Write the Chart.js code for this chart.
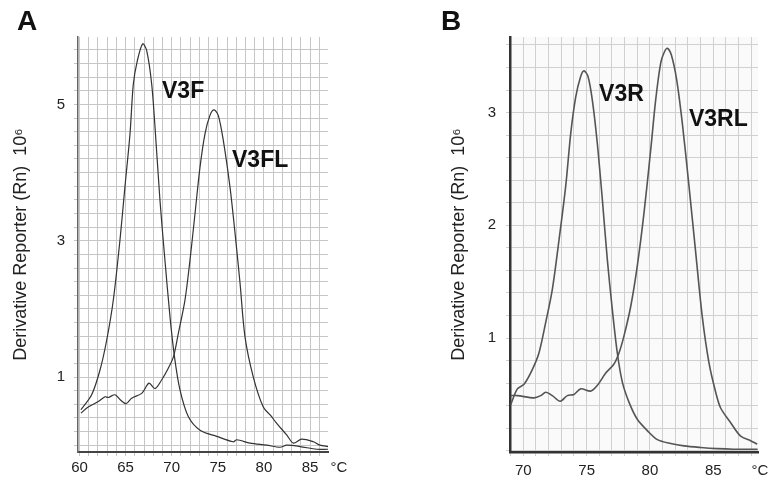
<!DOCTYPE html>
<html>
<head>
<meta charset="utf-8">
<script src="https://cdn.jsdelivr.net/npm/chart.js@4.4.1/dist/chart.umd.min.js"></script>
<style>
  html, body { margin: 0; padding: 0; background: #fff; }
  #wrap { position: relative; width: 768px; height: 481px; }
  canvas { position: absolute; top: 0; }
  #chartA { left: 0; }
  #chartB { left: 384px; }
</style>
</head>
<body>
<div id="wrap">
  <canvas id="chartA" width="384" height="481"></canvas>
  <canvas id="chartB" width="384" height="481"></canvas>
</div>
<script>
// Panel A - melt curves V3F / V3FL (x in °C, y in 10^6)
var tempV3F = [60.16, 61.32, 62.22, 62.95, 63.67, 64.39, 64.93, 65.48, 65.84, 66.27, 66.85, 67.29, 67.83, 68.19,
               68.73, 69.27, 69.82, 70.3, 70.9, 71.8, 73.07, 74.88, 76.68, 77.05, 78.49, 80.3, 81.75, 82.47, 83.92, 85.73, 86.95];
var valV3F  = [0.52, 0.74, 1.10, 1.54, 2.13, 3.01, 3.79, 4.57, 5.30, 5.64, 5.89, 5.79, 5.30, 4.67,
               3.59, 2.71, 1.88, 1.30, 0.81, 0.42, 0.22, 0.13, 0.05, 0.08, 0.03, 0.0, -0.03, 0.0, -0.02, -0.06, -0.06];

var tempV3FL = [60.16, 60.95, 62.04, 62.77, 63.12, 63.85, 64.39, 65.04, 65.66, 66.75, 67.54, 68.19, 68.92, 69.63,
                70.2, 70.72, 71.44, 71.98, 72.53, 73.07, 73.61, 74.15, 74.59, 75.05, 75.6, 76.32, 76.87, 77.41,
                77.95, 78.85, 79.93, 80.7, 81.39, 82.47, 83.19, 84.1, 85.36, 86.08, 86.95];
var valV3FL  = [0.47, 0.56, 0.64, 0.71, 0.70, 0.74, 0.67, 0.61, 0.69, 0.76, 0.91, 0.83, 0.96, 1.13,
                1.30, 1.64, 2.13, 2.71, 3.40, 4.08, 4.57, 4.84, 4.92, 4.84, 4.47, 3.79, 3.11, 2.38,
                1.59, 1.0, 0.56, 0.44, 0.32, 0.15, 0.03, 0.09, 0.05, 0.0, -0.02];

// Panel B - melt curves V3R / V3RL
var tempV3R = [69.01, 69.53, 70.06, 70.71, 71.24, 71.77, 72.29, 72.82, 73.35, 73.75, 74.14, 74.53, 74.79, 75.11,
               75.45, 75.84, 76.24, 76.63, 77.03, 77.42, 77.82, 78.35, 79.0, 79.79, 80.58, 81.64, 82.69, 84.0,
               85.3, 86.6, 88.5];
var valV3R  = [0.41, 0.55, 0.59, 0.72, 0.87, 1.14, 1.43, 1.87, 2.35, 2.82, 3.14, 3.32, 3.37, 3.32,
               3.11, 2.73, 2.23, 1.70, 1.25, 0.87, 0.61, 0.43, 0.28, 0.18, 0.10, 0.065, 0.044, 0.03,
               0.02, 0.015, 0.015];

var tempV3RL = [69.01, 69.53, 70.85, 71.38, 71.77, 72.29, 72.9, 73.48, 74.0, 74.53, 75.32, 75.84, 76.51, 77.16,
                77.56, 77.95, 78.48, 79.0, 79.53, 80.06, 80.45, 80.85, 81.11, 81.37, 81.69, 82.11, 82.55, 83.08,
                83.61, 84.13, 84.66, 85.19, 85.58, 86.37, 87.16, 87.95, 88.47];
var valV3RL  = [0.49, 0.49, 0.47, 0.49, 0.52, 0.49, 0.44, 0.49, 0.50, 0.55, 0.53, 0.58, 0.69, 0.77,
                0.87, 1.02, 1.28, 1.64, 2.11, 2.67, 3.11, 3.44, 3.53, 3.57, 3.51, 3.29, 2.91, 2.35,
                1.76, 1.19, 0.78, 0.52, 0.38, 0.25, 0.13, 0.09, 0.06];

var labelsA = ["V3F", "V3FL"];
var labelsB = ["V3R", "V3RL"];
var yTitle = "Derivative Reporter (Rn)  10\u2076";

function pts(xs, ys) {
    return xs.map(function (x, i) { return { x: x, y: ys[i] }; });
}

// letters, curve names and the °C unit
var panelText = {
    id: "panelText",
    beforeDraw: function (chart, args, opts) {
        if (!opts.bg) return;
        var a = chart.chartArea, ctx = chart.ctx;
        ctx.save();
        ctx.fillStyle = opts.bg;
        ctx.fillRect(a.left, a.top, a.right - a.left, a.bottom - a.top);
        ctx.restore();
    },
    afterDraw: function (chart, args, opts) {
        var ctx = chart.ctx, xs = chart.scales.x, ys = chart.scales.y;
        ctx.save();
        ctx.fillStyle = "#111";
        ctx.textBaseline = "alphabetic";
        ctx.textAlign = "left";
        ctx.font = "bold 28px 'Liberation Sans', Arial, sans-serif";
        ctx.fillText(opts.letter, opts.letterX, 30);
        ctx.font = "bold 23px 'Liberation Sans', Arial, sans-serif";
        opts.names.forEach(function (n) {
            ctx.fillText(n.text, xs.getPixelForValue(n.x), ys.getPixelForValue(n.y));
        });
        ctx.font = "15px 'Liberation Sans', Arial, sans-serif";
        ctx.fillStyle = "#222";
        ctx.textAlign = "center";
        ctx.textBaseline = "middle";
        ctx.fillText("\u00b0C", chart.chartArea.right + opts.unitDx, opts.unitY);
        ctx.restore();
    }
};

function makeChart(id, cfg) {
    var ctx = document.getElementById(id).getContext("2d");
    return new Chart(ctx, {
        type: "line",
        data: {
            datasets: cfg.series.map(function (s) {
                return {
                    label: s.label,
                    data: s.data,
                    borderColor: cfg.lineColor,
                    borderWidth: cfg.lineWidth,
                    pointRadius: 0,
                    tension: 0.3,
                    fill: false
                };
            })
        },
        options: {
            responsive: false,
            animation: false,
            devicePixelRatio: 1,
            layout: { padding: { top: 37, bottom: 0, left: cfg.padLeft, right: cfg.padRight } },
            plugins: {
                legend: { display: false },
                tooltip: { enabled: false },
                panelText: cfg.text
            },
            scales: {
                x: {
                    type: "linear",
                    min: cfg.xMin,
                    max: cfg.xMax,
                    afterFit: function (s) { s.height = cfg.xHeight; },
                    grid: { color: cfg.gridColor, tickLength: 4, tickColor: cfg.gridColor },
                    border: { color: cfg.axisColor, width: cfg.axisWidth },
                    ticks: {
                        stepSize: 1,
                        includeBounds: false,
                        autoSkip: false,
                        maxRotation: 0,
                        padding: cfg.xPad,
                        color: "#222",
                        font: { family: "'Liberation Sans', Arial, sans-serif", size: 15 },
                        callback: function (v) { return (Math.abs(v % 5) < 1e-6) ? String(v) : ""; }
                    }
                },
                y: {
                    type: "linear",
                    min: cfg.yMin,
                    max: cfg.yMax,
                    afterFit: function (s) { s.width = cfg.yWidth; },
                    grid: { color: cfg.gridColor, tickLength: 4, tickColor: cfg.gridColor },
                    border: { color: cfg.yAxisColor, width: cfg.yAxisWidth },
                    title: {
                        display: true,
                        text: yTitle,
                        color: "#222",
                        padding: { top: 10, bottom: 0 },
                        font: { family: "'Liberation Sans', Arial, sans-serif", size: 18 }
                    },
                    ticks: {
                        stepSize: 0.2,
                        includeBounds: false,
                        autoSkip: false,
                        padding: cfg.yPad,
                        color: "#222",
                        font: { family: "'Liberation Sans', Arial, sans-serif", size: 15 },
                        callback: function (v) {
                            var r = Math.round(v);
                            return (Math.abs(v - r) < 1e-6 && cfg.yLabels.indexOf(r) >= 0) ? String(r) : "";
                        }
                    }
                }
            }
        },
        plugins: [panelText]
    });
}

makeChart("chartA", {
    series: [
        { label: labelsA[0], data: pts(tempV3F, valV3F) },
        { label: labelsA[1], data: pts(tempV3FL, valV3FL) }
    ],
    lineColor: "#333", lineWidth: 1.2,
    gridColor: "#c6c6c6",
    axisColor: "#444", axisWidth: 2,
    yAxisColor: "#666", yAxisWidth: 1.5,
    padLeft: 0, padRight: 56, yWidth: 78, xHeight: 29,
    xMin: 59.84, xMax: 86.95, yMin: -0.1, yMax: 5.99,
    xPad: 3, yPad: 9,
    yLabels: [1, 3, 5],
    text: {
        letter: "A", letterX: 17, unitDx: 11, unitY: 468,
        names: [{ text: labelsA[0], x: 68.95, y: 5.10 }, { text: labelsA[1], x: 76.54, y: 4.08 }]
    }
});

makeChart("chartB", {
    series: [
        { label: labelsB[0], data: pts(tempV3R, valV3R) },
        { label: labelsB[1], data: pts(tempV3RL, valV3RL) }
    ],
    lineColor: "#555", lineWidth: 1.6,
    gridColor: "#d0d0d0",
    axisColor: "#333", axisWidth: 2.5,
    yAxisColor: "#333", yAxisWidth: 2.5,
    padLeft: 54, padRight: 10, yWidth: 72, xHeight: 29,
    xMin: 68.95, xMax: 88.53, yMin: -0.01, yMax: 3.67,
    xPad: 6, yPad: 10,
    yLabels: [1, 2, 3],
    text: {
        letter: "B", letterX: 57, unitDx: 2, unitY: 471, bg: "#fafafa",
        names: [{ text: labelsB[0], x: 75.98, y: 3.10 }, { text: labelsB[1], x: 83.08, y: 2.88 }]
    }
});
</script>
</body>
</html>
